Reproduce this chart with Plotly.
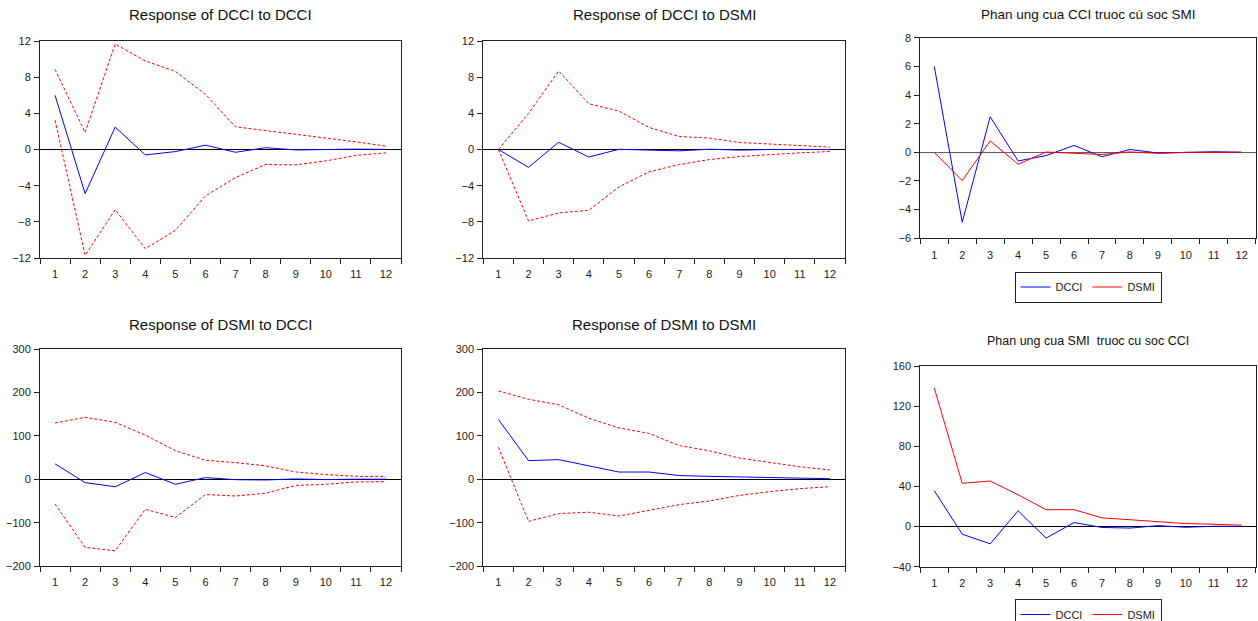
import plotly.graph_objects as go

periods = [str(i) for i in range(1, 13)]

# Response of DCCI to DCCI
p1_resp = [6.0, -4.88, 2.48, -0.6, -0.23, 0.48, -0.31, 0.2, -0.05, 0.0, 0.04, 0.01]
p1_up = [8.86, 1.88, 11.67, 9.79, 8.64, 6.09, 2.51, 2.1, 1.74, 1.33, 0.85, 0.37]
p1_lo = [3.25, -11.7, -6.65, -10.97, -8.94, -5.13, -3.1, -1.66, -1.7, -1.26, -0.66, -0.37]

# Response of DCCI to DSMI
p2_resp = [0.0, -1.97, 0.8, -0.83, 0.02, -0.05, -0.15, 0.03, -0.07, 0.0, 0.01, 0.0]
p2_up = [0.0, 3.99, 8.68, 5.06, 4.25, 2.44, 1.44, 1.26, 0.78, 0.59, 0.44, 0.26]
p2_lo = [0.0, -7.9, -7.02, -6.72, -4.14, -2.47, -1.66, -1.11, -0.78, -0.55, -0.37, -0.22]

# Response of DSMI to DCCI
p4_resp = [35.7, -7.6, -17.2, 15.7, -11.5, 4.0, -0.9, -1.5, 0.9, -0.7, 0.3, 0.2]
p4_up = [130, 143, 131.5, 102, 66, 44, 38.5, 31, 17, 11, 7, 6]
p4_lo = [-57, -157, -165, -69, -88, -35, -38.5, -32, -14, -11.5, -6, -5.5]

# Response of DSMI to DSMI
p5_resp = [138.2, 43.1, 45.4, 31.7, 16.8, 16.8, 8.7, 6.8, 5.2, 3.0, 2.3, 1.4]
p5_up = [204, 184.6, 172, 141, 118.5, 106, 77.7, 66, 49, 38.5, 29, 21.5]
p5_lo = [74, -97, -79, -76, -84.6, -72, -58.5, -50, -37, -28.5, -21.5, -17]

titles = ["Response of DCCI to DCCI", "Response of DCCI to DSMI", "Phan ung cua CCI truoc cú soc SMI",
          "Response of DSMI to DCCI", "Response of DSMI to DSMI", "Phan ung cua SMI  truoc cu soc CCI"]

W, H = 1258, 621
# plot area boxes in pixels: (left, right, top, bottom)
boxes = [(40, 401, 41, 258), (483.3, 845, 41, 258), (920.3, 1255.7, 37.7, 238.3),
         (40, 401, 349.3, 566), (483.3, 845, 349.3, 566), (920.3, 1255.7, 366, 566.7)]
title_y = [15, 15, 15, 324, 324, 341]
title_size = [15, 15, 13.5, 15, 15, 12.5]
yranges = [(-12, 12, 4), (-12, 12, 4), (-6, 8, 2), (-200, 300, 100), (-200, 300, 100), (-40, 160, 40)]

BLUE = "#0000ff"
RED = "#ff0000"
fig = go.Figure()

def add(i, y, color, dash, name=None, legend=None):
    n = i + 1
    kw = dict(legend=legend) if legend else {}
    fig.add_trace(go.Scatter(
        x=periods, y=y, mode="lines",
        line=dict(color=color, width=1, dash=dash),
        xaxis="x" if n == 1 else f"x{n}", yaxis="y" if n == 1 else f"y{n}",
        name=name if name else "", showlegend=bool(name), hoverinfo="skip", **kw))

bands = {0: (p1_resp, p1_up, p1_lo), 1: (p2_resp, p2_up, p2_lo),
         3: (p4_resp, p4_up, p4_lo), 4: (p5_resp, p5_up, p5_lo)}
for i, (r, u, l) in bands.items():
    add(i, u, RED, "3px,2px")
    add(i, l, RED, "3px,2px")
    add(i, r, BLUE, "solid")

# combined panels
add(2, p1_resp, BLUE, "solid", "DCCI", "legend2")
add(2, p2_resp, RED, "solid", "DSMI", "legend2")
add(5, p4_resp, BLUE, "solid", "DCCI", "legend3")
add(5, p5_resp, RED, "solid", "DSMI", "legend3")

layout = dict(width=W, height=H, margin=dict(l=0, r=0, t=0, b=0, autoexpand=False),
              paper_bgcolor="white", plot_bgcolor="white", showlegend=True,
              font=dict(family="Liberation Sans, Arial, sans-serif", size=11, color="#222"))
annotations = []
for i, (bx, t) in enumerate(zip(boxes, title_y)):
    n = i + 1
    l, r, top, bot = bx
    ymin, ymax, dt = yranges[i]
    xa = dict(domain=[l / W, r / W], type="category", range=[-0.5, 11.5],
              tickson="boundaries", ticks="outside", ticklen=5, tickcolor="#222",
              showline=True, linecolor="#222", linewidth=1, mirror=True,
              showgrid=False, zeroline=False, anchor="y" if n == 1 else f"y{n}",
              tickfont=dict(size=11), ticklabelstandoff=6)
    ya = dict(domain=[1 - bot / H, 1 - top / H], range=[ymin, ymax], dtick=dt, tick0=0,
              ticks="outside", ticklen=5, tickcolor="#222",
              showline=True, linecolor="#222", linewidth=1, mirror=True,
              showgrid=False, zeroline=True, zerolinecolor="#606060" if n == 3 else "#000",
              zerolinewidth=1, anchor="x" if n == 1 else f"x{n}", tickfont=dict(size=11),
              ticklabelstandoff=1)
    layout["xaxis" if n == 1 else f"xaxis{n}"] = xa
    layout["yaxis" if n == 1 else f"yaxis{n}"] = ya
    annotations.append(dict(text=titles[i], x=(l + r) / 2 / W, y=1 - t / H, xref="paper", yref="paper",
                            xanchor="center", yanchor="middle", showarrow=False,
                            font=dict(size=title_size[i], color="#111")))
layout["annotations"] = annotations
leg = dict(orientation="h", xanchor="center", yanchor="top", bordercolor="#222", borderwidth=1,
           bgcolor="white", font=dict(size=11), tracegroupgap=0)
layout["legend2"] = dict(leg, x=1088 / W, y=1 - 271.5 / H)
layout["legend3"] = dict(leg, x=1088 / W, y=1 - 599 / H)
fig.update_layout(**layout)
fig.write_html("out.html", config={"displayModeBar": False},
               post_script="document.body.style.margin='0';document.body.style.overflow='hidden';")
